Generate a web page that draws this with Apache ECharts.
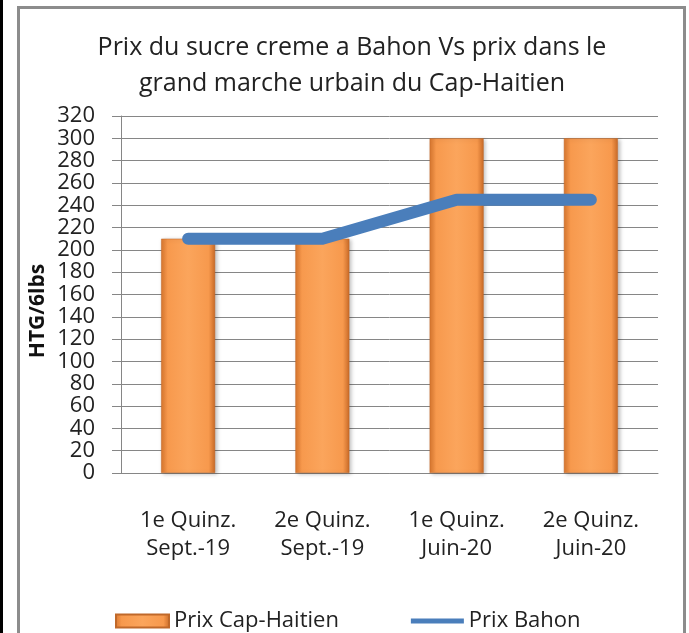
<!DOCTYPE html>
<html>
<head>
<meta charset="utf-8">
<script src="https://cdn.jsdelivr.net/npm/echarts@6/dist/echarts.min.js"></script>
<style>
  html, body { margin: 0; padding: 0; background: #fff; }
  #chart { width: 689px; height: 633px; }
</style>
</head>
<body>
<div id="chart"></div>
<script>
  // données
  var categories = ['1e Quinz.\nSept.-19', '2e Quinz.\nSept.-19', '1e Quinz.\nJuin-20', '2e Quinz.\nJuin-20'];
  var prixCapHaitien = [210, 210, 300, 300];
  var prixBahon = [210, 210, 245, 245];
  var yTicks = { min: 0, max: 320, interval: 20 };

  var font = '"Open Sans", "Noto Sans", sans-serif';
  var chart = echarts.init(document.getElementById('chart'));

  // orange "biseauté" façon Excel
  var barColor = new echarts.graphic.LinearGradient(0, 0, 1, 0, [
    { offset: 0, color: '#d9772f' },
    { offset: 0.12, color: '#f7994d' },
    { offset: 0.5, color: '#fba55c' },
    { offset: 0.88, color: '#f7994d' },
    { offset: 1, color: '#c86a27' }
  ]);

  var option = {
    animation: false,
    title: {
      text: 'Prix du sucre creme a Bahon Vs prix dans le\ngrand marche urbain du Cap-Haitien',
      left: 352,
      top: 30,
      padding: 0,
      textAlign: 'center',
      textStyle: {
        fontFamily: font,
        fontSize: 25,
        fontWeight: 'normal',
        color: '#222',
        lineHeight: 36
      }
    },
    grid: {
      left: 121,
      right: 31,
      top: 116,
      bottom: 160,
      containLabel: false
    },
    legend: {
      left: 110,
      top: 605,
      itemWidth: 53,
      itemHeight: 13,
      itemGap: 72,
      textStyle: { fontFamily: font, fontSize: 22, color: '#222' },
      data: [
        { name: 'Prix Cap-Haitien', icon: 'rect' },
        { name: 'Prix Bahon', icon: 'path://M0,0H53V5H0Z' }
      ]
    },
    xAxis: {
      type: 'category',
      data: categories,
      axisLine: { lineStyle: { color: '#868686', width: 1 } },
      axisTick: { length: 9, lineStyle: { color: '#868686' } },
      axisLabel: {
        margin: 34,
        fontFamily: font,
        fontSize: 22,
        lineHeight: 28,
        color: '#222'
      }
    },
    yAxis: {
      type: 'value',
      min: yTicks.min,
      max: yTicks.max,
      interval: yTicks.interval,
      axisLine: { show: true, lineStyle: { color: '#868686', width: 1 } },
      axisTick: { show: true, length: 9, lineStyle: { color: '#868686' } },
      splitLine: { lineStyle: { color: '#868686', width: 1 } },
      axisLabel: {
        margin: 26,
        showMinLabel: true,
        showMaxLabel: true,
        fontFamily: font,
        fontSize: 22,
        lineHeight: 20,
        color: '#222'
      }
    },
    graphic: [
      { type: 'rect', shape: { x: 0, y: 0, width: 3, height: 633 }, style: { fill: '#000' } },
      { type: 'rect', shape: { x: 18.5, y: 7.5, width: 666, height: 700 }, style: { fill: null, stroke: '#8c8c8c', lineWidth: 3 } },
      {
        type: 'text',
        x: 38, y: 311,
        rotation: Math.PI / 2,
        style: {
          text: 'HTG/6lbs',
          fontFamily: font,
          fontSize: 21,
          fontWeight: 'bold',
          fill: '#111',
          textAlign: 'center',
          textVerticalAlign: 'middle'
        }
      }
    ],
    series: [
      {
        name: 'Prix Cap-Haitien',
        type: 'bar',
        barWidth: 54,
        data: prixCapHaitien,
        itemStyle: {
          color: barColor,
          borderColor: '#c0692a',
          borderWidth: 0.5,
          shadowColor: 'rgba(0,0,0,0.25)',
          shadowBlur: 4,
          shadowOffsetX: 2,
          shadowOffsetY: 1
        },
        z: 2
      },
      {
        name: 'Prix Bahon',
        type: 'line',
        data: prixBahon,
        symbol: 'none',
        color: '#4a7ebb',
        lineStyle: { color: '#4a7ebb', width: 12, cap: 'round', join: 'round' },
        z: 3
      }
    ]
  };

  chart.setOption(option);
  window.addEventListener('resize', function () {
    chart.resize();
  });
</script>
</body>
</html>
